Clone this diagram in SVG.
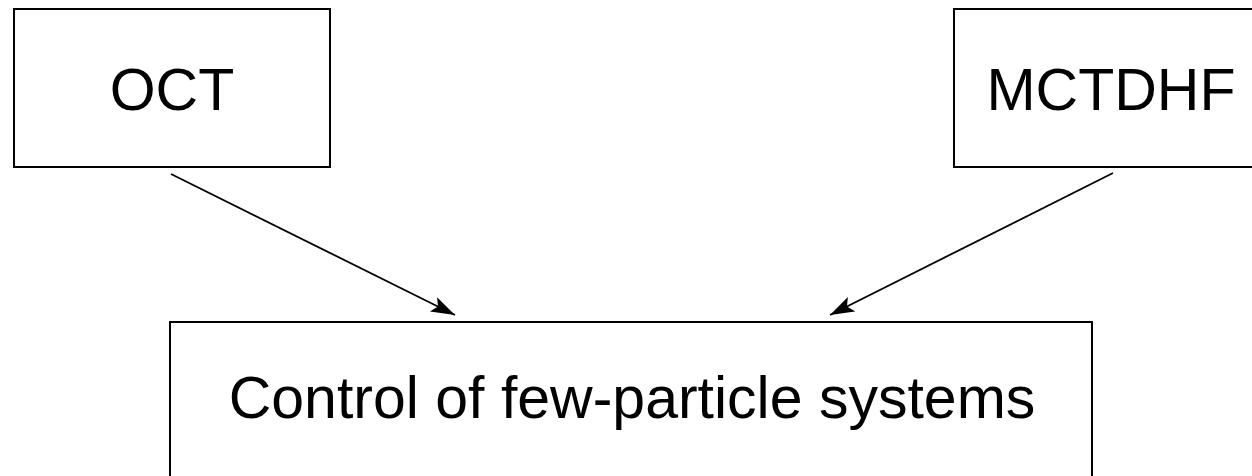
<svg xmlns="http://www.w3.org/2000/svg" width="1252" height="476" viewBox="0 0 1252 476">
<style>
.box{fill:#fff;stroke:#000;stroke-width:2}
.lbl{font-family:"Liberation Sans",Arial,sans-serif;font-size:59px;fill:#000;text-anchor:middle}
.conn{stroke:#000;stroke-width:1.8;fill:none}
</style>
<defs>
<marker id="ah" markerUnits="userSpaceOnUse" markerWidth="26" markerHeight="18" refX="24" refY="8" orient="auto">
<path d="M0,0 L24,8 L0,16 L5,8 Z" fill="#000"/>
</marker>
</defs>
<rect width="1252" height="476" fill="#fff"/>
<g id="oct">
<rect class="box" x="14" y="9" width="316" height="158"/>
<text class="lbl" x="172" y="110">OCT</text>
</g>
<g id="mctdhf">
<rect class="box" x="954" y="9" width="314" height="158"/>
<text class="lbl" x="1111" y="110">MCTDHF</text>
</g>
<g id="control">
<rect class="box" x="170" y="322" width="922" height="170"/>
<text class="lbl" x="632" y="418">Control of few-particle systems</text>
</g>
<g id="connectors">
<line class="conn" x1="171" y1="174" x2="455" y2="315" marker-end="url(#ah)"/>
<line class="conn" x1="1113" y1="173" x2="830" y2="315" marker-end="url(#ah)"/>
</g>
</svg>
